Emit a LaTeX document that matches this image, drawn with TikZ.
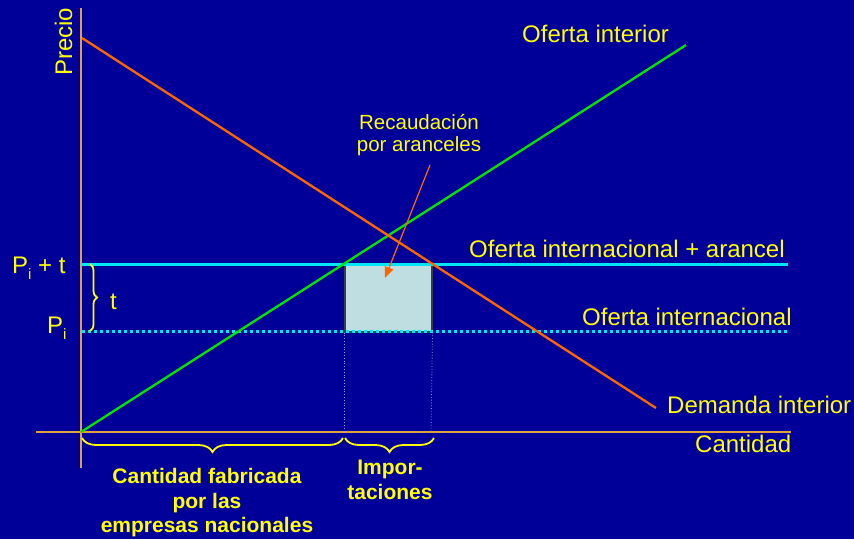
\documentclass[tikz,border=0pt]{standalone}
\usepackage{fontspec}
\setmainfont{Liberation Sans}
\usetikzlibrary{decorations.pathreplacing,arrows.meta}
\definecolor{bgblue}{RGB}{0,0,153}
\definecolor{axiscol}{RGB}{222,160,64}
\definecolor{demcol}{RGB}{255,102,0}
\definecolor{supcol}{RGB}{0,230,0}
\definecolor{intcol}{RGB}{0,230,255}
\definecolor{boxfill}{RGB}{190,222,226}
\definecolor{boxline}{RGB}{60,60,70}
\definecolor{guidecol}{RGB}{140,160,210}
\definecolor{txtyellow}{RGB}{255,255,0}
\newcommand\mysubi{\raisebox{-6pt}{\fontsize{15}{15}\selectfont i}}
\begin{document}
\begin{tikzpicture}[x=1pt,y=-1pt,
  lab/.style={text=txtyellow,font=\fontsize{24}{28}\selectfont,inner sep=0pt},
  boldlab/.style={text=txtyellow,font=\fontsize{21}{24.5}\selectfont\bfseries,inner sep=0pt,align=center},
  smalllab/.style={text=txtyellow,font=\fontsize{20.5}{22.5}\selectfont,inner sep=0pt,align=center},
  axisline/.style={draw=axiscol,line width=1.8pt},
  demline/.style={draw=demcol,line width=2.3pt},
  supline/.style={draw=supcol,line width=2.3pt},
  tariffline/.style={draw=intcol,line width=3pt},
  worldline/.style={draw=intcol,line width=3pt,dash pattern=on 3pt off 3pt},
  guide/.style={draw=guidecol,line width=0.8pt,dotted},
  ybrace/.style={draw=txtyellow,line width=1.8pt,decorate},
  pointer/.style={draw=demcol,fill=demcol,line width=1.2pt,-{Triangle[length=11pt,width=9pt]}}
]
\fill[bgblue] (0,0) rectangle (854,539);
\useasboundingbox (0,0) rectangle (854,539);

% axes
\coordinate (ytop) at (81,8);
\coordinate (ybot) at (81,468);
\coordinate (xleft) at (36,432);
\coordinate (xright) at (791,432);
\draw[axisline] (ybot) -- (ytop);
\draw[axisline] (xleft) -- (xright);

% tariff box and guides
\node[draw=boxline,fill=boxfill,line width=1.5pt,minimum width=87pt,minimum height=67pt,inner sep=0pt,anchor=north west] (box) at (344,264) {};
\coordinate (gl) at (344,432);
\coordinate (gr) at (431,432);
\draw[guide] (box.south west) -- (gl);
\draw[guide] (box.south east) -- (gr);

% price lines
\coordinate (pt0) at (82,264);
\coordinate (pt1) at (788,264);
\coordinate (pw0) at (82,331);
\coordinate (pw1) at (790,331);
\draw[tariffline] (pt0) -- (pt1);
\draw[worldline] (pw0) -- (pw1);

% supply and demand
\coordinate (d0) at (82,38);
\coordinate (d1) at (656,408);
\coordinate (s0) at (81,432);
\coordinate (s1) at (686,45);
\draw[supline] (s0) -- (s1);
\draw[demline] (d0) -- (d1);

% labels
\node[lab,anchor=base west] (loi) at (522,42) {Oferta interior};
\node[lab,anchor=base west] (loia) at (469,257) {Oferta internacional + arancel};
\node[lab,anchor=base west] (lowi) at (582,325) {Oferta internacional};
\node[lab,anchor=base west] (ldem) at (667,413) {Demanda interior};
\node[lab,anchor=base west] (lcant) at (695,452) {Cantidad};
\node[lab,anchor=base west,rotate=90] (lprec) at (72,76) {Precio};
\node[lab,anchor=base west] (lpt) at (12,273) {P\mysubi{} + t};
\node[lab,anchor=base west] (lpi) at (47,333) {P\mysubi};
\node[lab,anchor=base west] (lt) at (110,309) {t};

% recaudacion
\node[smalllab,anchor=north] (lrec) at (419,114) {Recaudación\\por aranceles};
\coordinate (arrowstart) at (430,165);
\coordinate (arrowtip) at (385,278);
\draw[pointer] (arrowstart) -- (arrowtip);

% braces
\coordinate (bt0) at (90,264);
\coordinate (bt1) at (90,331);
\draw[ybrace,decoration={brace,amplitude=7pt}] (bt0) -- (bt1);
\coordinate (bq0) at (343,438);
\coordinate (bq1) at (82,438);
\draw[ybrace,decoration={brace,amplitude=14pt}] (bq0) -- (bq1);
\coordinate (bm0) at (434,438);
\coordinate (bm1) at (345,438);
\draw[ybrace,decoration={brace,amplitude=14pt}] (bm0) -- (bm1);

\node[boldlab,anchor=north] (lnat) at (207,468.5) {Cantidad fabricada\\por las\\empresas nacionales};
\node[boldlab,anchor=north] (limp) at (390,460) {Impor-\\taciones};
\end{tikzpicture}
\end{document}
